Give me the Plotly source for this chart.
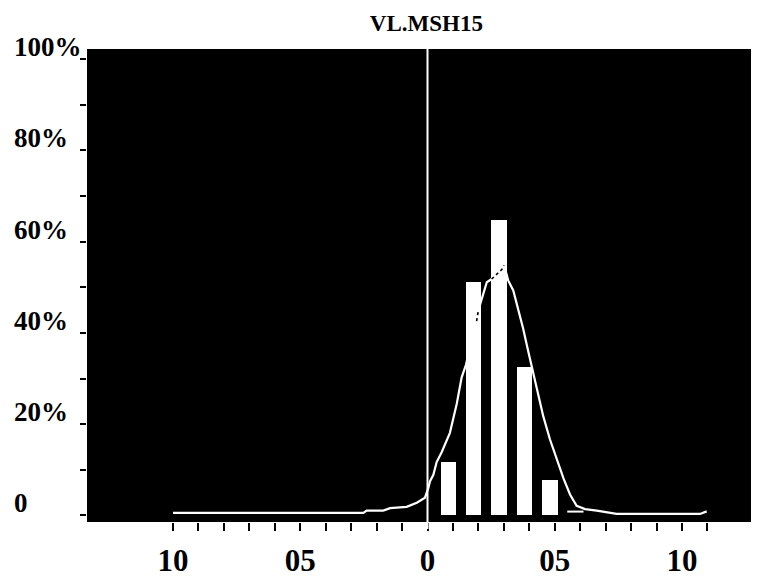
import plotly.graph_objects as go

# ---- data ----
title_text = "VL.MSH15"

bar_x = [0.082, 0.182, 0.281, 0.382, 0.481]
bar_pct = [11.7, 51.1, 64.8, 32.5, 7.7]

curve_x = [-1.0, -0.252, -0.239, -0.174, -0.147, -0.082, -0.042, -0.010,
           0.003, 0.010, 0.023, 0.036, 0.056, 0.088, 0.115, 0.134, 0.151,
           0.193, 0.200, 0.213, 0.233, 0.252, 0.272, 0.292, 0.301, 0.317,
           0.337, 0.357, 0.376, 0.396, 0.416, 0.435, 0.455, 0.481, 0.508,
           0.534, 0.560, 0.586, 0.619, 0.665, 0.743, 1.071, 1.097]
curve_pct = [0.55, 0.55, 1.07, 1.07, 1.6, 1.9, 2.8, 3.9,
             6.0, 7.5, 8.9, 11.7, 13.9, 18.1, 24.5, 30.2, 33.0,
             42.6, 45.0, 47.2, 51.1, 51.8, 52.9, 53.9, 54.8, 51.5,
             49.3, 45.1, 40.9, 35.9, 30.9, 26.7, 21.7, 16.7, 12.4,
             8.2, 4.6, 2.1, 1.4, 1.07, 0.34, 0.34, 0.9]

dash_x = [0.549, 0.613]
dash_pct = [0.85, 0.85]

x_tick_vals = [-1.0, -0.9, -0.8, -0.7, -0.6, -0.5, -0.4, -0.3, -0.2, -0.1,
               0.0, 0.1, 0.2, 0.3, 0.4, 0.5, 0.6, 0.7, 0.8, 0.9, 1.0, 1.1]
x_tick_text = ["10", "", "", "", "", "05", "", "", "", "",
               "0", "", "", "", "", "05", "", "", "", "", "10", ""]

y_tick_vals = [0, 10, 20, 30, 40, 50, 60, 70, 80, 90, 100]
y_label_vals = [0, 20, 40, 60, 80, 100]
y_label_text = ["0", "20%", "40%", "60%", "80%", "100%"]

zero_line_x = 0.0

# ---- figure ----
FONT = "Liberation Serif, Times New Roman, serif"
W, H = 751, 570   # page body adds an 8px offset
BAR_W = 0.06

fig = go.Figure()
fig.add_trace(go.Bar(
    x=bar_x, y=bar_pct, width=BAR_W,
    marker=dict(color="white", line=dict(width=0)),
    showlegend=False, hoverinfo="skip",
))
fig.add_trace(go.Scatter(
    x=curve_x, y=curve_pct, mode="lines",
    line=dict(color="white", width=2.2),
    showlegend=False, hoverinfo="skip",
))

# where the curve crosses a white bar it shows dark (inverted drawing)
inside_x, inside_y = [], []
for bx, bh in zip(bar_x, bar_pct):
    seg = [(cx, cy) for cx, cy in zip(curve_x, curve_pct)
           if abs(cx - bx) <= BAR_W / 2 and cy < bh]
    if len(seg) >= 2:
        inside_x += [p[0] for p in seg] + [None]
        inside_y += [p[1] for p in seg] + [None]
fig.add_trace(go.Scatter(
    x=inside_x, y=inside_y, mode="lines",
    line=dict(color="black", width=1.6, dash="dot"),
    showlegend=False, hoverinfo="skip",
))

fig.add_trace(go.Scatter(
    x=dash_x, y=dash_pct, mode="lines",
    line=dict(color="white", width=2),
    showlegend=False, hoverinfo="skip",
))

fig.add_shape(type="line", xref="x", yref="paper",
              x0=zero_line_x, x1=zero_line_x, y0=-0.015, y1=1.0,
              line=dict(color="white", width=2), layer="above")

for v, t in zip(y_label_vals, y_label_text):
    fig.add_annotation(
        xref="paper", yref="y", x=-0.112, y=v, yshift=12,
        text=t, showarrow=False, xanchor="left", yanchor="middle",
        font=dict(family=FONT, size=27, color="black", weight="bold"),
    )

fig.update_layout(
    width=W, height=H,
    margin=dict(l=79, r=0, t=41, b=43, pad=0),
    paper_bgcolor="white", plot_bgcolor="black",
    title=dict(text=title_text, x=0.505, xref="paper", xanchor="center",
               y=1 - 15 / H, yref="container", yanchor="middle",
               font=dict(family=FONT, size=23, color="black", weight="bold")),
    xaxis=dict(range=[-1.338, 1.3026], tickmode="array",
               tickvals=x_tick_vals, ticktext=x_tick_text,
               ticks="outside", ticklen=8, tickwidth=2, tickcolor="black",
               ticklabelstandoff=3,
               showgrid=False, zeroline=False, showline=False,
               tickfont=dict(family=FONT, size=31, color="black", weight="bold")),
    yaxis=dict(range=[-1.43, 102.2], tickmode="array",
               tickvals=y_tick_vals, showticklabels=False,
               ticks="outside", ticklen=6, tickwidth=2, tickcolor="black",
               showgrid=False, zeroline=False, showline=False),
    bargap=0,
)

fig.write_html("out.html")
